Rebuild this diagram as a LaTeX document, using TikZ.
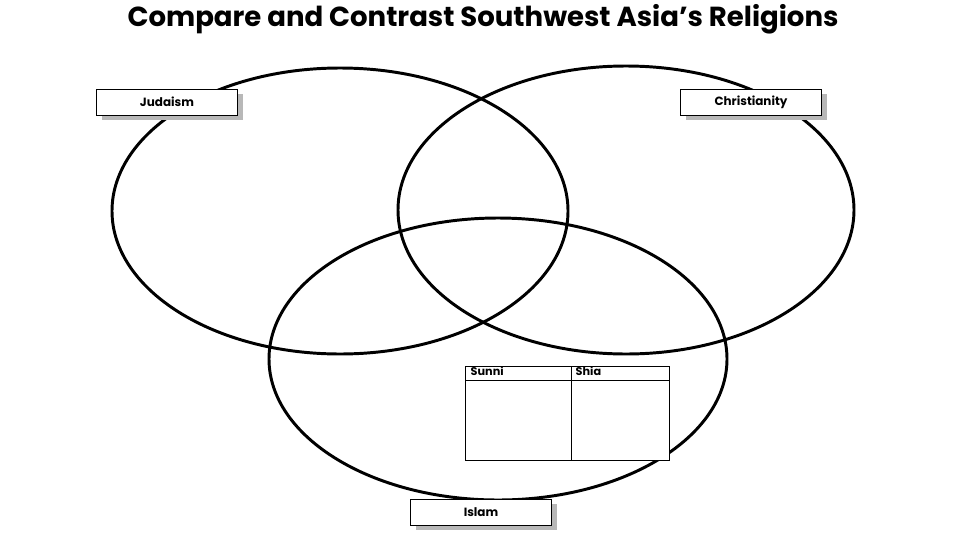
\documentclass[tikz,border=0pt]{standalone}
\usepackage{fontspec}
\setmainfont{Poppins}
\usetikzlibrary{positioning,shadows}

\begin{document}
\begin{tikzpicture}[x=0.025cm,y=-0.025cm,
                    ring/.style={line width=2.1pt},
                    tag/.style={draw,fill=white,line width=0.7pt,
                                minimum width=3.52cm,minimum height=0.65cm,
                                font=\bfseries\fontsize{8.5}{10}\selectfont,
                                drop shadow={shadow xshift=0.13cm,shadow yshift=-0.13cm,
                                             fill=black!28,opacity=1}},
                    cell/.style={anchor=north west,inner sep=1pt,
                                 font=\bfseries\fontsize{8}{9}\selectfont}]
  \useasboundingbox (0,0) rectangle (960,540);
  \node[font=\bfseries\fontsize{19.6}{22}\selectfont] (title) at (483,19)
    {Compare and Contrast Southwest Asia’s Religions};
  % the three rings
  \draw[ring] (340,211) ellipse [x radius=228,y radius=143];
  \draw[ring] (626,210) ellipse [x radius=228,y radius=144];
  \draw[ring] (498,359) ellipse [x radius=229,y radius=141];
  % labels
  \node[tag] (judaism) at (167,102) {Judaism};
  \node[tag] (christianity) at (751,102) {Christianity};
  \node[tag] (islam) at (481,512) {Islam};
  % sunni / shia table
  \draw[fill=white,line width=0.7pt] (465,366) rectangle (669,460);
  \draw[line width=0.7pt] (465,380) -- (669,380);
  \draw[line width=0.7pt] (571,366) -- (571,460);
  \node[cell] (sunni) at (469,365) {Sunni};
  \node[cell] (shia) at (574,365) {Shia};
\end{tikzpicture}
\end{document}
